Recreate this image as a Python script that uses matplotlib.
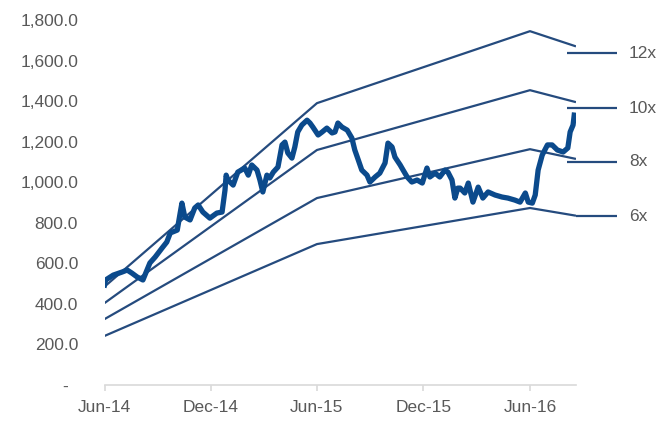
import numpy as np
import pandas as pd
import matplotlib
matplotlib.use('Agg')
import matplotlib.pyplot as plt
from matplotlib.ticker import FuncFormatter

plt.rcParams['font.family'] = ['Liberation Sans', 'DejaVu Sans']

#--------- Data --------------
price_dates = [
    '2014-06-01', '2014-06-03', '2014-06-16', '2014-07-01', '2014-07-10', '2014-07-18',
    '2014-07-27', '2014-08-06', '2014-08-18', '2014-08-27', '2014-09-08', '2014-09-16',
    '2014-09-22', '2014-10-04', '2014-10-09', '2014-10-12', '2014-10-17', '2014-10-26',
    '2014-11-03', '2014-11-09', '2014-11-17', '2014-11-29', '2014-12-11', '2014-12-20',
    '2014-12-25', '2014-12-27', '2014-12-30', '2015-01-08', '2015-01-16', '2015-01-28',
    '2015-02-03', '2015-02-09', '2015-02-18', '2015-02-23', '2015-02-28', '2015-03-07',
    '2015-03-12', '2015-03-18', '2015-03-26', '2015-04-02', '2015-04-07', '2015-04-12',
    '2015-04-19', '2015-04-24', '2015-04-29', '2015-05-06', '2015-05-15', '2015-05-20',
    '2015-05-25', '2015-06-03', '2015-06-10', '2015-06-18', '2015-06-27', '2015-07-02',
    '2015-07-07', '2015-07-14', '2015-07-23', '2015-07-31', '2015-08-05', '2015-08-11',
    '2015-08-17', '2015-08-26', '2015-08-31', '2015-09-09', '2015-09-17', '2015-09-26',
    '2015-10-01', '2015-10-08', '2015-10-13', '2015-10-22', '2015-10-27', '2015-11-03',
    '2015-11-11', '2015-11-20', '2015-11-29', '2015-12-07', '2015-12-12', '2015-12-21',
    '2015-12-29', '2016-01-07', '2016-01-12', '2016-01-19', '2016-01-24', '2016-01-29',
    '2016-02-02', '2016-02-10', '2016-02-16', '2016-02-24', '2016-03-04', '2016-03-12',
    '2016-03-21', '2016-04-02', '2016-04-14', '2016-04-24', '2016-05-06', '2016-05-15',
    '2016-05-24', '2016-05-29', '2016-06-05', '2016-06-10', '2016-06-15', '2016-06-22',
    '2016-07-01', '2016-07-09', '2016-07-18', '2016-07-28', '2016-08-05', '2016-08-09',
    '2016-08-14', '2016-08-16',
]
price = [
    493, 518, 542, 557, 567, 552,
    533, 518, 602, 631, 676, 705,
    750, 764, 848, 897, 828, 814,
    873, 888, 853, 823, 848, 853,
    961, 1035, 1011, 986, 1050, 1070,
    1035, 1085, 1060, 1011, 952, 1035,
    1021, 1050, 1075, 1184, 1198, 1144,
    1119, 1174, 1248, 1282, 1306, 1292,
    1272, 1233, 1248, 1267, 1243, 1248,
    1292, 1272, 1257, 1218, 1159, 1110,
    1060, 1035, 1001, 1026, 1045, 1095,
    1193, 1174, 1124, 1085, 1060, 1026,
    1001, 1011, 996, 1070, 1026, 1045,
    1026, 1060, 1050, 1011, 922, 971,
    971, 947, 996, 902, 976, 922,
    952, 937, 927, 922, 912, 902,
    947, 902, 897, 937, 1060, 1134,
    1184, 1184, 1159, 1149, 1169, 1248,
    1282, 1331,
]

band_dates = ['2014-06-01', '2015-06-01', '2016-06-01', '2016-08-19']
band_12x = [485, 1390, 1745, 1670]
band_10x = [404, 1159, 1454, 1395]
band_8x = [325, 922, 1163, 1115]
band_6x = [242, 695, 873, 835]

multiple_labels = ['12x', '10x', '8x', '6x']
label_levels = [1637, 1366, 1100, 833]
label_starts = ['2016-08-03', '2016-08-03', '2016-08-03', '2016-08-19']
label_end = '2016-10-29'
label_text_at = '2016-11-18'

tick_dates = ['2014-06-01', '2014-12-01', '2015-06-01', '2015-12-01', '2016-06-01']
tick_labels = ['Jun-14', 'Dec-14', 'Jun-15', 'Dec-15', 'Jun-16']
#-----------------------------

price_dates = pd.to_datetime(price_dates)
band_dates = pd.to_datetime(band_dates)

band_color = '#254b7e'
price_color = '#0b4a8c'
text_color = '#595959'
fs = 12.5

fig = plt.figure(figsize=(6.56, 4.26), dpi=100)
ax = fig.add_axes([0.1593, 0.0962, 0.7187, 0.8568])

for band in [band_12x, band_10x, band_8x, band_6x]:
    ax.plot(band_dates, band, color=band_color, lw=1.6, solid_capstyle='butt')

ax.plot(price_dates, price, color=price_color, lw=3.8, solid_joinstyle='round')

for lab, lev, start in zip(multiple_labels, label_levels, label_starts):
    ax.plot(pd.to_datetime([start, label_end]), [lev, lev], color=band_color,
            lw=1.6, clip_on=False, solid_capstyle='butt')
    ax.text(pd.to_datetime(label_text_at), lev, lab, color=text_color,
            fontsize=fs, va='center', ha='left', clip_on=False)

ax.set_xlim(pd.to_datetime('2014-06-01'), pd.to_datetime('2016-08-19'))
ax.set_ylim(0, 1800)
ax.set_yticks(np.arange(0, 1801, 200))
ax.yaxis.set_major_formatter(FuncFormatter(lambda v, p: '-  ' if v == 0 else f'{v:,.1f}'))
ax.set_xticks(pd.to_datetime(tick_dates))
ax.set_xticklabels(tick_labels)

for side in ['top', 'right', 'left']:
    ax.spines[side].set_visible(False)
ax.spines['bottom'].set_color('#d9d9d9')
ax.spines['bottom'].set_linewidth(1.2)
ax.tick_params(axis='x', direction='out', length=4, width=1.2, color='#d9d9d9',
               labelcolor=text_color, labelsize=fs, pad=7)
ax.tick_params(axis='y', length=0, labelcolor=text_color, labelsize=fs, pad=19)

fig.savefig('out.png', dpi=100)
